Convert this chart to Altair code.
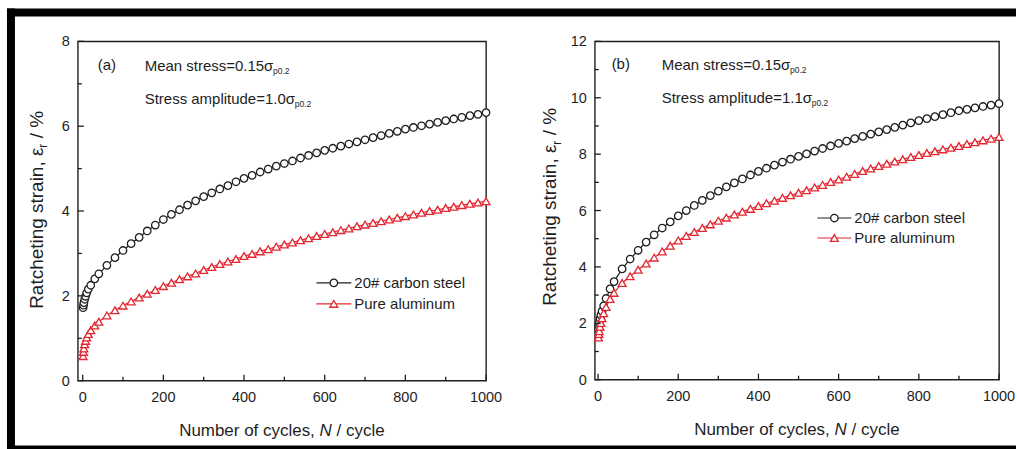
import altair as alt
import pandas as pd

# ---------------------------------------------------------------------------
# Ratcheting strain (%) versus number of cycles for two materials
# ---------------------------------------------------------------------------
cycles = [1, 2, 3, 5, 7, 10, 14, 20, 30, 40] + list(range(60, 1001, 20))

# (a) mean stress 0.15 sigma_p0.2, stress amplitude 1.0 sigma_p0.2
steel_a = [1.72, 1.78, 1.84, 1.92, 1.99, 2.07, 2.16, 2.25, 2.40, 2.52,
           2.72, 2.90, 3.07, 3.23, 3.38, 3.53, 3.67, 3.80, 3.92, 4.03,
           4.14, 4.24, 4.34, 4.43, 4.52, 4.60, 4.69, 4.77, 4.84, 4.92,
           4.99, 5.06, 5.12, 5.18, 5.25, 5.31, 5.37, 5.43, 5.48, 5.53,
           5.58, 5.63, 5.68, 5.73, 5.78, 5.83, 5.88, 5.93, 5.97, 6.01,
           6.05, 6.09, 6.13, 6.17, 6.21, 6.25, 6.28, 6.32]
alu_a = [0.58, 0.68, 0.76, 0.86, 0.94, 1.02, 1.10, 1.19, 1.30, 1.39,
         1.54, 1.66, 1.77, 1.87, 1.96, 2.05, 2.14, 2.23, 2.31, 2.39,
         2.46, 2.53, 2.61, 2.68, 2.75, 2.81, 2.87, 2.94, 2.99, 3.05,
         3.10, 3.16, 3.21, 3.26, 3.31, 3.36, 3.41, 3.46, 3.50, 3.55,
         3.59, 3.64, 3.68, 3.72, 3.76, 3.80, 3.84, 3.88, 3.92, 3.96,
         4.00, 4.03, 4.07, 4.10, 4.14, 4.17, 4.20, 4.23]

# (b) mean stress 0.15 sigma_p0.2, stress amplitude 1.1 sigma_p0.2
steel_b = [1.80, 1.92, 2.02, 2.17, 2.29, 2.43, 2.62, 2.88, 3.22, 3.48,
           3.93, 4.28, 4.59, 4.88, 5.14, 5.38, 5.60, 5.81, 6.00, 6.18,
           6.36, 6.53, 6.69, 6.84, 6.98, 7.12, 7.26, 7.39, 7.50, 7.61,
           7.72, 7.82, 7.92, 8.01, 8.11, 8.20, 8.29, 8.38, 8.46, 8.55,
           8.63, 8.71, 8.79, 8.87, 8.95, 9.03, 9.11, 9.19, 9.26, 9.33,
           9.40, 9.47, 9.54, 9.59, 9.64, 9.69, 9.74, 9.79]
alu_b = [1.50, 1.62, 1.72, 1.88, 2.01, 2.18, 2.36, 2.58, 2.86, 3.08,
         3.43, 3.67, 3.90, 4.12, 4.33, 4.55, 4.75, 4.94, 5.10, 5.24,
         5.38, 5.51, 5.64, 5.75, 5.86, 5.96, 6.06, 6.16, 6.26, 6.35,
         6.45, 6.54, 6.63, 6.72, 6.82, 6.91, 7.01, 7.10, 7.20, 7.30,
         7.40, 7.49, 7.58, 7.66, 7.74, 7.82, 7.90, 7.97, 8.04, 8.10,
         8.17, 8.23, 8.29, 8.36, 8.42, 8.49, 8.55, 8.61]

x_major = [0, 200, 400, 600, 800, 1000]
x_minor = [100, 300, 500, 700, 900]
y_major_a = [0, 2, 4, 6, 8]
y_minor_a = [1, 3, 5, 7]
y_major_b = [0, 2, 4, 6, 8, 10, 12]
y_minor_b = [1, 3, 5, 7, 9, 11]

series_names = ["20# carbon steel", "Pure aluminum"]

FONT = "Liberation Sans"
INK = "#1e1e1e"
RED = "#e3262f"

one = pd.DataFrame({"k": [0]})


def text(s, x, y, size=15, align="left", angle=None, style="normal"):
    kw = dict(text=s, fontSize=size, font=FONT, align=align,
              baseline="alphabetic", color=INK, fontStyle=style)
    if angle is not None:
        kw["angle"] = angle
    return alt.Chart(one).mark_text(**kw).encode(x=alt.value(x), y=alt.value(y))


def block(x, x2, y, y2):
    return alt.Chart(one).mark_rect(color="black").encode(
        x=alt.value(x), x2=alt.value(x2), y=alt.value(y), y2=alt.value(y2))


def point_mark(kind):
    if kind == "circle":
        return dict(shape="circle", size=56, filled=True, fill="white",
                    stroke=INK, strokeWidth=1.3, opacity=1)
    return dict(shape="triangle-up", size=62, filled=True, fill="white",
                stroke=RED, strokeWidth=1.3, opacity=1)


def panel(tag, amp, steel, alu, ymax, y_major, y_minor, x_min, W, H,
          frame, note_y, legend_pos, ytitle_pos, xtitle_base):
    sx = alt.Scale(domain=[x_min, 1000], nice=False, zero=False)
    sy = alt.Scale(domain=[0, ymax], nice=False, zero=False)

    layers = []
    # data curves
    for vals, color, kind in [(steel, INK, "circle"), (alu, RED, "triangle")]:
        df = pd.DataFrame({"N": cycles, "eps": vals})
        base = alt.Chart(df).encode(
            x=alt.X("N:Q", scale=sx, axis=None),
            y=alt.Y("eps:Q", scale=sy, axis=None))
        layers.append(base.mark_line(color=color, strokeWidth=1.2))
        layers.append(base.mark_point(**point_mark(kind)))

    # inward ticks
    for vals, ln in [(x_major, 6), (x_minor, 4)]:
        layers.append(alt.Chart(pd.DataFrame({"v": vals})).mark_rule(
            color=INK, strokeWidth=1.3).encode(
            x=alt.X("v:Q", scale=sx, axis=None),
            y=alt.value(H), y2=alt.value(H - ln)))
    for vals, ln in [(y_major, 6), (y_minor, 4)]:
        layers.append(alt.Chart(pd.DataFrame({"v": vals})).mark_rule(
            color=INK, strokeWidth=1.3).encode(
            y=alt.Y("v:Q", scale=sy, axis=None),
            x=alt.value(0), x2=alt.value(ln)))

    # tick labels
    layers.append(alt.Chart(pd.DataFrame({"v": x_major})).mark_text(
        font=FONT, fontSize=14.5, color=INK, align="center",
        baseline="alphabetic").encode(
        x=alt.X("v:Q", scale=sx, axis=None), y=alt.value(H + 21),
        text=alt.Text("v:Q", format="d")))
    layers.append(alt.Chart(pd.DataFrame({"v": y_major})).mark_text(
        font=FONT, fontSize=14.5, color=INK, align="right",
        baseline="alphabetic", dy=5).encode(
        y=alt.Y("v:Q", scale=sy, axis=None), x=alt.value(-8),
        text=alt.Text("v:Q", format="d")))

    # annotations
    tx, ax = tag
    n1, n2 = note_y
    layers.append(text(tx, ax, n1 - 0.5, 15, align="center"))
    left = 67
    layers.append(text("Mean stress=0.15\u03c3", left, n1, 15))
    layers.append(text("p0.2", left + 128.6, n1 + 3.5, 8.5))
    layers.append(text("Stress amplitude=" + amp + "\u03c3", left, n2, 15))
    layers.append(text("p0.2", left + 150.3, n2 + 3.5, 8.5))

    # legend
    lx0, lx1, ly0, ly1 = legend_pos
    for (name, color, kind), ly in zip(
            [(series_names[0], INK, "circle"), (series_names[1], RED, "triangle")],
            [ly0, ly1]):
        layers.append(alt.Chart(one).mark_rule(color=color, strokeWidth=1.2).encode(
            x=alt.value(lx0), x2=alt.value(lx1), y=alt.value(ly)))
        layers.append(alt.Chart(one).mark_point(**point_mark(kind)).encode(
            x=alt.value((lx0 + lx1) / 2), y=alt.value(ly)))
        layers.append(text(name, lx1 + 3, ly + 5.4, 15))

    # y-axis title: Ratcheting strain, eps_r / %
    yx, y0 = ytitle_pos
    layers.append(text("Ratcheting strain, \u03b5", yx, y0, 19, angle=270))
    layers.append(text("r", yx + 4.5, y0 - 161.5, 12, angle=270))
    layers.append(text("/ %", yx, y0 - 171, 19, angle=270))

    # x-axis title: Number of cycles, N / cycle
    c = W / 2
    layers.append(text("Number of cycles,", c - 103, xtitle_base, 17))
    layers.append(text("N", c + 37.7, xtitle_base, 17, style="italic"))
    layers.append(text("/ cycle", c + 54.7, xtitle_base, 17))

    # black picture frame
    for f in frame:
        layers.append(block(*f))

    return alt.layer(*layers).properties(width=W, height=H)


pa = panel(("(a)", 29), "1.0", steel_a, alu_a, 8, y_major_a, y_minor_a, -12,
           409, 340,
           frame=[(-71, 940, -33, -25), (-71, -63, -33, 409), (-71, 940, 405, 409)],
           note_y=(29.5, 62.5),
           legend_pos=(239, 274, 242, 263),
           ytitle_pos=(-35.4, 268), xtitle_base=395)
pb = panel(("(b)", 26), "1.1", steel_b, alu_b, 12, y_major_b, y_minor_b, -8,
           405, 339,
           frame=[],
           note_y=(28.5, 61.5),
           legend_pos=(223, 257, 177, 197),
           ytitle_pos=(-38.5, 265), xtitle_base=394)

chart = alt.hconcat(pa, pb, spacing=109, bounds="flush").properties(
    padding={"left": 6, "top": 7, "right": 0, "bottom": 0},
    background="white",
).configure_view(stroke=INK, strokeWidth=1.4)

chart.save("out.html", embed_options={"renderer": "svg", "actions": False})
